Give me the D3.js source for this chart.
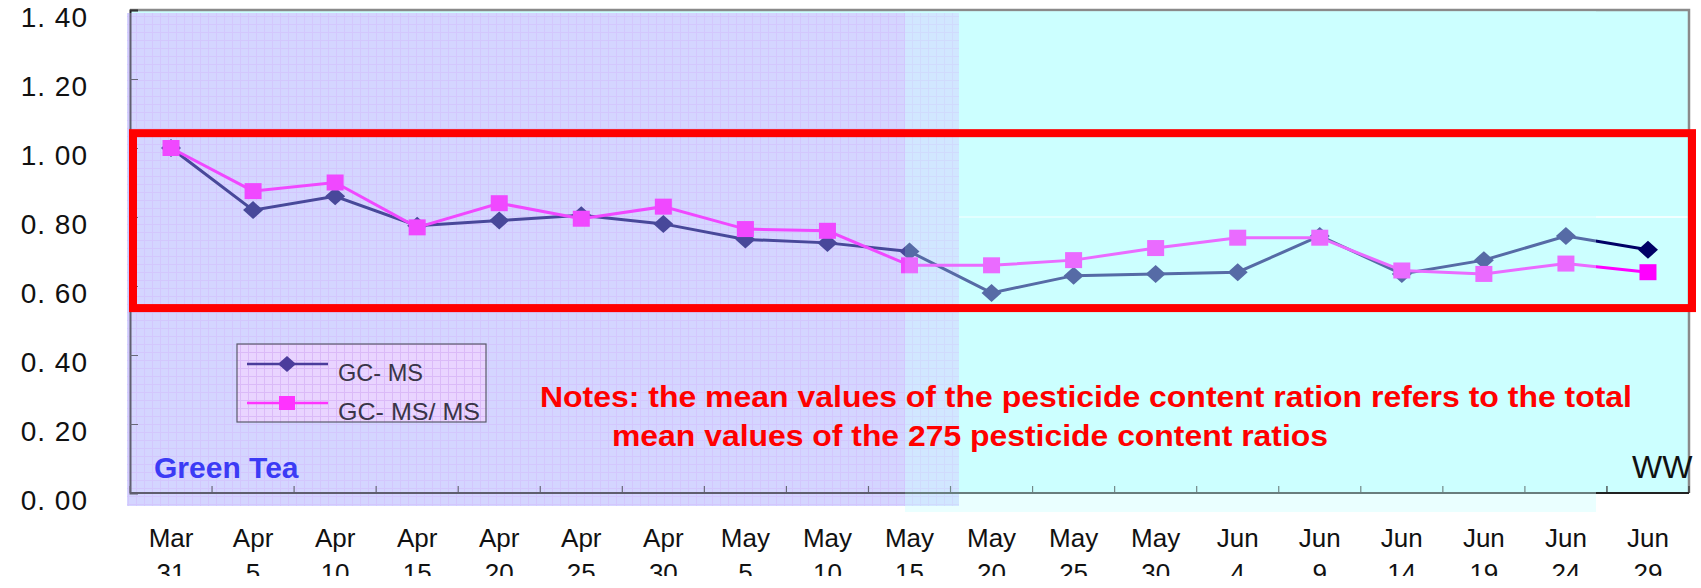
<!DOCTYPE html>
<html>
<head>
<meta charset="utf-8">
<script src="https://cdn.jsdelivr.net/npm/d3@7"></script>
<style>
  body { margin: 0; background: #fff; }
  svg { display: block; }
</style>
</head>
<body>
<div id="plot"></div>
<script>
// Data
const months = ["Mar", "Apr", "Apr", "Apr", "Apr", "Apr", "Apr", "May", "May", "May",
                "May", "May", "May", "Jun", "Jun", "Jun", "Jun", "Jun", "Jun"];
const days = ["31", "5", "10", "15", "20", "25", "30", "5", "10", "15",
              "20", "25", "30", "4", "9", "14", "19", "24", "29"];
const gcms = [1.00, 0.82, 0.86, 0.775, 0.79, 0.805, 0.78, 0.735, 0.725, 0.70,
              0.58, 0.63, 0.635, 0.64, 0.745, 0.635, 0.675, 0.745, 0.705];
const gcmsms = [1.00, 0.875, 0.90, 0.77, 0.84, 0.795, 0.83, 0.765, 0.76, 0.66,
                0.66, 0.675, 0.71, 0.74, 0.74, 0.645, 0.635, 0.665, 0.64];
const yTicks = [0, 0.2, 0.4, 0.6, 0.8, 1.0, 1.2, 1.4];
const seriesNames = ["GC- MS", "GC- MS/ MS"];

// Dimensions
const width = 1701, height = 588;
const plot = { left: 130, right: 1689, top: 10, bottom: 493 };

const svg = d3.select('#plot')
  .append('svg')
  .attr('width', width)
  .attr('height', height)
  .style('font-family', '"Liberation Sans", Arial, sans-serif');

const x = d3.scaleBand()
  .domain(d3.range(months.length))
  .range([plot.left, plot.right]);
const cx = i => x(i) + x.bandwidth() / 2;

const y = d3.scaleLinear()
  .domain([0, 1.4])
  .range([plot.bottom, plot.top]);

// Patterns for the lavender grid picture
const defs = svg.append('defs');
const grid = defs.append('pattern')
  .attr('id', 'grid')
  .attr('width', 8).attr('height', 8)
  .attr('patternUnits', 'userSpaceOnUse');
grid.append('rect').attr('width', 8).attr('height', 8).attr('fill', '#d5d6ff');
grid.append('path').attr('d', 'M0.5 0V8M0 0.5H8')
  .attr('stroke', '#d0a8f8').attr('stroke-width', 1).attr('opacity', 0.45);

const gridPink = defs.append('pattern')
  .attr('id', 'gridPink')
  .attr('width', 8).attr('height', 8)
  .attr('patternUnits', 'userSpaceOnUse');
gridPink.append('rect').attr('width', 8).attr('height', 8).attr('fill', '#e9d4ff');
gridPink.append('path').attr('d', 'M0.5 0V8M0 0.5H8')
  .attr('stroke', '#d2a8f4').attr('stroke-width', 1).attr('opacity', 0.6);

defs.append('clipPath').attr('id', 'labelClip')
  .append('rect').attr('x', 0).attr('y', 0).attr('width', width).attr('height', 576);

// Plot background
svg.append('rect')
  .attr('x', plot.left).attr('y', plot.top)
  .attr('width', plot.right - plot.left)
  .attr('height', plot.bottom - plot.top)
  .attr('fill', '#ccffff');

// White gridline at 0.80
svg.append('line')
  .attr('x1', plot.left).attr('x2', plot.right)
  .attr('y1', y(0.8)).attr('y2', y(0.8))
  .attr('stroke', '#ffffff').attr('stroke-width', 1.5);

// Lavender grid picture (left part)
svg.append('rect')
  .attr('x', 127).attr('y', 13)
  .attr('width', 959 - 127).attr('height', 506 - 13)
  .attr('fill', 'url(#grid)');

// Plot border top / right
svg.append('path')
  .attr('d', `M${plot.left},${plot.top}H${plot.right}V${plot.bottom}`)
  .attr('fill', 'none')
  .attr('stroke', '#8a8a8a')
  .attr('stroke-width', 2.5);

// Axes
const yAxis = svg.append('g')
  .attr('transform', `translate(${plot.left},0)`)
  .call(d3.axisRight(y).tickValues(yTicks).tickSize(8).tickFormat(''));
yAxis.select('.domain').attr('stroke', '#222').attr('stroke-width', 2);
yAxis.selectAll('.tick line').attr('stroke', '#333');

const boundaries = d3.range(months.length + 1).map(i => plot.left + i * x.bandwidth());
svg.append('g')
  .selectAll('line')
  .data(boundaries)
  .join('line')
  .attr('x1', d => d).attr('x2', d => d)
  .attr('y1', plot.bottom).attr('y2', plot.bottom - 7)
  .attr('stroke', '#333').attr('stroke-width', 1.2);
svg.append('line')
  .attr('x1', plot.left).attr('x2', plot.right)
  .attr('y1', plot.bottom).attr('y2', plot.bottom)
  .attr('stroke', '#222').attr('stroke-width', 2);

// Series lines and markers
const line = d3.line().x((d, i) => cx(i)).y(d => y(d));
const diamond = 'M0,-9L10,0L0,9L-10,0Z';

svg.append('path')
  .datum(gcms)
  .attr('d', line)
  .attr('fill', 'none')
  .attr('stroke', '#000066')
  .attr('stroke-width', 3);
svg.append('g')
  .selectAll('path')
  .data(gcms)
  .join('path')
  .attr('d', diamond)
  .attr('transform', (d, i) => `translate(${cx(i)},${y(d)})`)
  .attr('fill', '#000066');

svg.append('path')
  .datum(gcmsms)
  .attr('d', line)
  .attr('fill', 'none')
  .attr('stroke', '#ff00ff')
  .attr('stroke-width', 3);
svg.append('g')
  .selectAll('rect')
  .data(gcmsms)
  .join('rect')
  .attr('x', (d, i) => cx(i) - 8.5)
  .attr('y', d => y(d) - 8)
  .attr('width', 17)
  .attr('height', 16)
  .attr('fill', '#ff00ff');

// Tint overlays (the pasted pictures on top of the chart)
svg.append('rect')
  .attr('x', 127).attr('y', 13)
  .attr('width', 905 - 127).attr('height', 506 - 13)
  .attr('fill', '#d2d4ff')
  .attr('opacity', 0.34);
svg.append('rect')
  .attr('x', 905).attr('y', 11)
  .attr('width', 1596 - 905).attr('height', 512 - 11)
  .attr('fill', '#ccffff')
  .attr('opacity', 0.42);

// Legend
const legend = svg.append('g');
legend.append('rect')
  .attr('x', 237).attr('y', 344)
  .attr('width', 249).attr('height', 78)
  .attr('fill', 'url(#gridPink)')
  .attr('stroke', '#5a5a6a')
  .attr('stroke-width', 1.2);
const legendRows = [
  { name: seriesNames[0], color: '#4b3c9c', y: 364, shape: 'diamond' },
  { name: seriesNames[1], color: '#ff33ff', y: 403, shape: 'square' }
];
legend.selectAll('line')
  .data(legendRows)
  .join('line')
  .attr('x1', 247).attr('x2', 328)
  .attr('y1', d => d.y).attr('y2', d => d.y)
  .attr('stroke', d => d.color)
  .attr('stroke-width', 2.5);
legend.selectAll('.mark')
  .data(legendRows)
  .join('path')
  .attr('class', 'mark')
  .attr('d', d => d.shape === 'diamond' ? 'M0,-8L9,0L0,8L-9,0Z' : 'M-8,-7H8V7H-8Z')
  .attr('transform', d => `translate(287,${d.y})`)
  .attr('fill', d => d.color);
legend.selectAll('text')
  .data(legendRows)
  .join('text')
  .attr('x', 338)
  .attr('y', d => d.y + 17)
  .attr('textLength', (d, i) => i === 0 ? 85 : 142)
  .attr('lengthAdjust', 'spacingAndGlyphs')
  .style('font-size', '24px')
  .style('fill', '#3a3548')
  .text(d => d.name);

// Y tick labels
svg.append('g')
  .selectAll('text')
  .data(yTicks)
  .join('text')
  .attr('x', 88)
  .attr('y', d => y(d) + 17)
  .attr('text-anchor', 'end')
  .style('font-size', '28px')
  .style('letter-spacing', '1px')
  .style('fill', '#111')
  .text(d => d3.format('.2f')(d).replace('.', '. '));

// X tick labels (two lines, cut at the bottom like the source)
const xl = svg.append('g')
  .attr('clip-path', 'url(#labelClip)')
  .selectAll('text')
  .data(months)
  .join('text')
  .attr('text-anchor', 'middle')
  .style('font-size', '26px')
  .style('fill', '#111');
xl.append('tspan')
  .attr('x', (d, i) => cx(i))
  .attr('y', 547)
  .text(d => d);
xl.append('tspan')
  .attr('x', (d, i) => cx(i))
  .attr('y', 582)
  .text((d, i) => days[i]);

// Annotations
svg.append('text')
  .attr('x', 154).attr('y', 478)
  .style('font-size', '30px')
  .style('font-weight', 'bold')
  .style('fill', '#3b3bf5')
  .text('Green Tea');

svg.append('text')
  .attr('x', 1632).attr('y', 478)
  .style('font-size', '32px')
  .style('fill', '#111')
  .text('WW');

const notes = [
  { text: 'Notes: the mean values of the pesticide content ration refers to the total', x: 540, y: 407, len: 1092 },
  { text: 'mean values of the 275 pesticide content ratios', x: 612, y: 446, len: 716 }
];
svg.append('g')
  .selectAll('text')
  .data(notes)
  .join('text')
  .attr('x', d => d.x)
  .attr('y', d => d.y)
  .attr('textLength', d => d.len)
  .attr('lengthAdjust', 'spacingAndGlyphs')
  .style('font-family', '"Liberation Sans Narrow", "Liberation Sans", Arial, sans-serif')
  .style('font-size', '30px')
  .style('font-weight', 'bold')
  .style('fill', '#ff0000')
  .text(d => d.text);

// Red highlight box around the 0.54 - 1.04 band
svg.append('rect')
  .attr('x', plot.left + 3)
  .attr('y', y(1.043))
  .attr('width', plot.right - plot.left)
  .attr('height', y(0.536) - y(1.043))
  .attr('fill', 'none')
  .attr('stroke', '#ff0000')
  .attr('stroke-width', 8);
</script>
</body>
</html>
